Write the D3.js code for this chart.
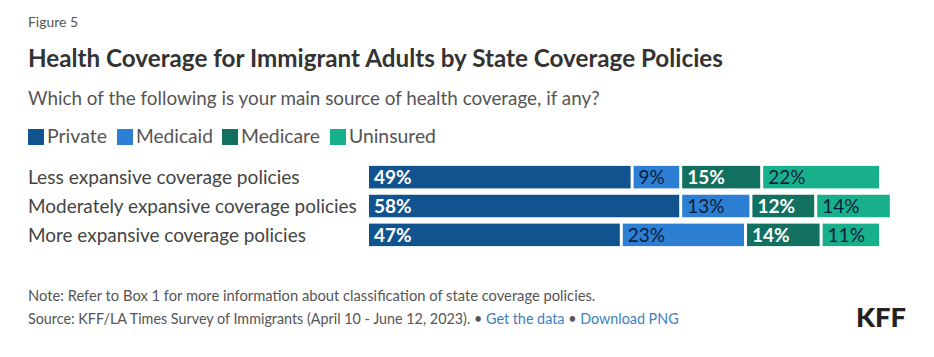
<!DOCTYPE html>
<html><head><meta charset="utf-8">
<script src="https://cdn.jsdelivr.net/npm/d3@7"></script>
<style>body{margin:0;background:#fff;}svg{display:block;font-family:Lato,"Noto Sans",sans-serif;}</style>
</head><body>
<svg id="c" width="934" height="357"></svg>
<script>
const categories = ["Less expansive coverage policies","Moderately expansive coverage policies","More expansive coverage policies"];
const seriesNames = ["Private","Medicaid","Medicare","Uninsured"];
const privateVals = [49,58,47];
const medicaidVals = [9,13,23];
const medicareVals = [15,12,14];
const uninsuredVals = [22,14,11];
const colors = ["#11538f","#2c7fd3","#11705f","#18b08a"];
const labelColors = ["#ffffff","#0c1c3c","#ffffff","#0c1c3c"];
const labelWeights = ["bold","normal","bold","normal"];

const svg = d3.select("#c");
function fit(t, w){ const cur = t.node().getComputedTextLength(); const fs = parseFloat(t.attr("font-size")); t.attr("font-size", fs*w/cur); return t; }

fit(svg.append("text").attr("x",28).attr("y",27).attr("font-size",14).attr("fill","#555").text("Figure 5"),50);
fit(svg.append("text").attr("x",28).attr("y",67).attr("font-size",21).attr("font-weight","bold").attr("fill","#333").text("Health Coverage for Immigrant Adults by State Coverage Policies"),695);
fit(svg.append("text").attr("x",28).attr("y",105).attr("font-size",17).attr("fill","#555").text("Which of the following is your main source of health coverage, if any?"),572);

// legend
const legX = [28,117,222,330];
const legTextW = [60,77,79,87];
seriesNames.forEach((s,i)=>{
  svg.append("rect").attr("x",legX[i]).attr("y",129).attr("width",16).attr("height",16).attr("fill",colors[i]);
  fit(svg.append("text").attr("x",legX[i]+19).attr("y",143).attr("font-size",17).attr("fill","#555").text(s),legTextW[i]);
});

const data = categories.map((c,i)=>({cat:c, vals:[privateVals[i],medicaidVals[i],medicareVals[i],uninsuredVals[i]]}));
const x = d3.scaleLinear().domain([0,100]).range([369,909]);
const y = d3.scaleBand().domain(categories).range([163,249]).paddingInner(0.22).paddingOuter(0.1);
const gap = 3;
const catW = [272,329,278];
data.forEach((d,ri)=>{
  let cum = 0;
  d.vals.forEach((v,si)=>{
    const x0 = x(cum), w = x(cum+v)-x(cum)-gap;
    svg.append("rect").attr("x",x0).attr("y",y(d.cat)).attr("width",w).attr("height",y.bandwidth()).attr("fill",colors[si]);
    svg.append("text").attr("x",x0+5).attr("y",y(d.cat)+y.bandwidth()/2).attr("dy","0.36em")
      .attr("font-size",19).attr("font-weight",labelWeights[si]).attr("fill",labelColors[si]).text(v+"%");
    cum += v;
  });
  fit(svg.append("text").attr("x",28).attr("y",y(d.cat)+y.bandwidth()/2).attr("dy","0.36em").attr("font-size",17).attr("fill","#444").text(d.cat),catW[ri]);
});

fit(svg.append("text").attr("x",28).attr("y",301).attr("font-size",14).attr("fill","#555").text("Note: Refer to Box 1 for more information about classification of state coverage policies."),568);
const src = svg.append("text").attr("x",28).attr("y",324).attr("font-size",14).attr("fill","#555");
src.append("tspan").text("Source: KFF/LA Times Survey of Immigrants (April 10 - June 12, 2023). • ");
src.append("tspan").attr("fill","#3d7fbf").text("Get the data");
src.append("tspan").text(" • ");
src.append("tspan").attr("fill","#3d7fbf").text("Download PNG");
fit(src,651);
fit(svg.append("text").attr("x",856).attr("y",327).attr("font-size",24).attr("font-weight","900").attr("fill","#222").text("KFF"),50);
</script>
</body></html>
